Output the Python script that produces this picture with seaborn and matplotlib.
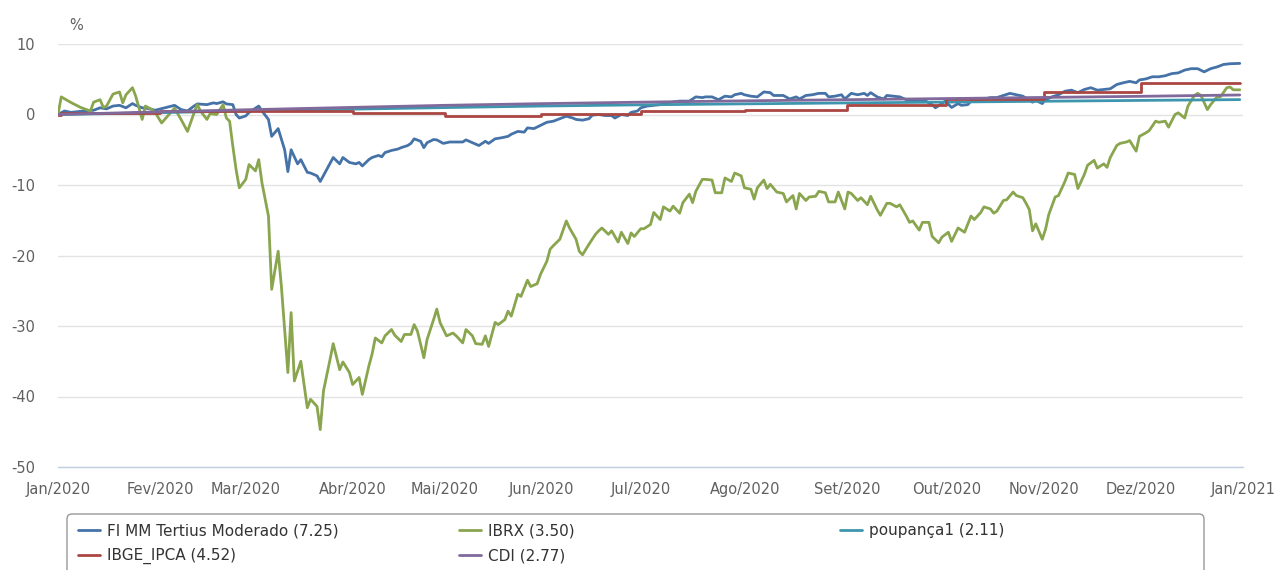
import matplotlib
matplotlib.use("Agg")
import matplotlib.pyplot as plt
import pandas as pd
import seaborn as sns
from matplotlib.lines import Line2D
from matplotlib.patches import FancyBboxPatch
from matplotlib.transforms import IdentityTransform

# x axis is in "days since start" (the source axis is ordinal, so month
# ticks sit where they were read off the picture)
month_labels = ["Jan/2020", "Fev/2020", "Mar/2020", "Abr/2020", "Mai/2020", "Jun/2020",
                "Jul/2020", "Ago/2020", "Set/2020", "Out/2020", "Nov/2020", "Dez/2020",
                "Jan/2021"]
month_pos = [0, 31.5, 58.1, 91, 119.4, 149.3, 180, 212.3, 243.8, 274.4, 304.4, 334.5, 366]

fund_days = [0, 2, 4, 8, 11, 13, 15, 17, 19, 21,
             23, 24, 26, 28, 30, 33, 36, 38, 40, 42,
             43, 46, 48, 49, 51, 52, 54, 55, 56, 58,
             59, 62, 63, 65, 66, 68, 69, 70, 71, 72,
             74, 75, 77, 78, 80, 81, 83, 85, 87, 88,
             90, 92, 93, 94, 96, 97, 99, 100, 101, 103,
             105, 106, 108, 109, 110, 112, 113, 114, 116, 117,
             119, 121, 123, 125, 126, 128, 130, 132, 133, 135,
             137, 139, 140, 142, 144, 145, 147, 149, 151, 153,
             155, 157, 159, 160, 162, 164, 165, 167, 169, 171,
             172, 174, 176, 177, 179, 180, 182, 184, 186, 188,
             192, 195, 197, 199, 200, 202, 204, 206, 208, 209,
             211, 212, 214, 216, 218, 220, 221, 224, 226, 228,
             229, 231, 233, 235, 237, 238, 240, 242, 243, 245,
             247, 249, 250, 251, 253, 255, 256, 258, 260, 262,
             265, 268, 270, 271, 273, 274, 276, 278, 279, 281,
             282, 284, 286, 288, 290, 292, 294, 296, 298, 301,
             302, 304, 305, 307, 309, 311, 313, 315, 317, 319,
             321, 323, 325, 327, 329, 331, 333, 334, 336, 338,
             340, 342, 344, 346, 348, 350, 352, 354, 356, 358,
             360, 362, 365]
fund_vals = [0.0, 0.5, 0.3, 0.5, 0.6, 0.95, 0.8, 1.2, 1.3, 0.95,
             1.55, 1.3, 0.95, 0.85, 0.6, 0.95, 1.3, 0.7, 0.5, 1.2,
             1.5, 1.4, 1.65, 1.55, 1.8, 1.5, 1.4, 0.0, -0.5, -0.2,
             0.3, 1.2, 0.5, -0.7, -3.1, -2.0, -3.5, -5.0, -8.1, -5.0,
             -7.0, -6.4, -8.2, -8.3, -8.7, -9.5, -7.8, -6.1, -7.0, -6.1,
             -6.8, -7.0, -6.8, -7.3, -6.4, -6.1, -5.8, -6.0, -5.4, -5.1,
             -4.9, -4.7, -4.4, -4.1, -3.45, -3.8, -4.7, -4.0, -3.55, -3.6,
             -4.1, -3.9, -3.9, -3.9, -3.6, -4.0, -4.4, -3.8, -4.1, -3.45,
             -3.3, -3.1, -2.8, -2.4, -2.5, -1.9, -2.0, -1.55, -1.1, -0.95,
             -0.6, -0.24, -0.5, -0.7, -0.8, -0.6, -0.1, 0.0, -0.15, -0.15,
             -0.5, 0.0, -0.15, 0.3, 0.5, 0.95, 1.2, 1.3, 1.4, 1.65,
             1.9, 1.9, 2.5, 2.4, 2.5, 2.5, 2.1, 2.6, 2.5, 2.8,
             3.0, 2.8, 2.6, 2.5, 3.2, 3.1, 2.7, 2.7, 2.2, 2.5,
             2.2, 2.7, 2.8, 3.0, 3.0, 2.5, 2.6, 2.8, 2.2, 3.0,
             2.8, 3.0, 2.7, 3.1, 2.5, 2.2, 2.7, 2.6, 2.5, 2.1,
             1.9, 1.9, 1.4, 0.95, 1.55, 1.9, 1.0, 1.55, 1.3, 1.4,
             1.9, 2.0, 2.2, 2.4, 2.4, 2.7, 3.0, 2.8, 2.6, 1.75,
             2.0, 1.55, 2.1, 2.5, 2.8, 3.3, 3.45, 3.1, 3.55, 3.8,
             3.45, 3.55, 3.65, 4.25, 4.5, 4.7, 4.5, 4.9, 5.05, 5.35,
             5.35, 5.5, 5.8, 5.9, 6.3, 6.5, 6.5, 6.05, 6.5, 6.75,
             7.1, 7.2, 7.25]

ibrx_days = [0, 1, 4, 7, 10, 11, 13, 14, 15, 17,
             19, 20, 21, 23, 24, 26, 27, 29, 30, 32,
             34, 36, 38, 40, 42, 43, 44, 46, 47, 49,
             51, 52, 53, 54, 55, 56, 58, 59, 61, 62,
             63, 65, 66, 68, 69, 71, 72, 73, 75, 77,
             78, 80, 81, 82, 84, 85, 87, 88, 90, 91,
             93, 94, 96, 97, 98, 100, 101, 103, 104, 106,
             107, 109, 110, 111, 113, 114, 116, 117, 118, 120,
             122, 123, 125, 126, 128, 129, 131, 132, 133, 135,
             136, 138, 139, 140, 142, 143, 145, 146, 148, 149,
             151, 152, 153, 155, 157, 158, 160, 161, 162, 164,
             166, 167, 168, 170, 171, 173, 174, 176, 177, 178,
             180, 181, 183, 184, 186, 187, 189, 190, 192, 193,
             195, 196, 197, 199, 200, 202, 203, 205, 206, 208,
             209, 211, 212, 214, 215, 216, 218, 219, 220, 222,
             224, 225, 227, 228, 229, 231, 232, 234, 235, 237,
             238, 240, 241, 243, 244, 245, 247, 248, 250, 251,
             253, 254, 256, 257, 259, 260, 262, 263, 264, 266,
             267, 269, 270, 272, 273, 275, 276, 278, 279, 280,
             282, 283, 285, 286, 288, 289, 290, 292, 293, 295,
             296, 298, 299, 300, 301, 302, 304, 305, 306, 308,
             309, 311, 312, 314, 315, 317, 318, 320, 321, 323,
             324, 325, 327, 328, 330, 331, 333, 334, 336, 337,
             339, 340, 342, 343, 345, 346, 348, 349, 351, 352,
             353, 355, 356, 358, 359, 361, 362, 363, 365]
ibrx_vals = [0.0, 2.5, 1.7, 1.0, 0.5, 1.75, 2.1, 1.0, 1.2, 2.9,
             3.2, 1.65, 2.8, 3.8, 2.6, -0.7, 1.2, 0.7, 0.3, -1.2,
             -0.15, 0.9, -0.7, -2.4, 0.2, 1.4, 0.5, -0.7, 0.14, 0.0,
             1.4, -0.5, -0.95, -4.5, -7.8, -10.4, -9.2, -7.1, -8.0, -6.4,
             -9.7, -14.4, -24.8, -19.4, -24.4, -36.6, -28.1, -37.8, -35.0, -41.6,
             -40.4, -41.4, -44.7, -39.2, -34.8, -32.5, -36.2, -35.1, -36.6, -38.3,
             -37.3, -39.7, -35.7, -34.0, -31.7, -32.4, -31.4, -30.5, -31.3, -32.2,
             -31.2, -31.2, -29.8, -30.7, -34.5, -31.9, -29.1, -27.6, -29.5, -31.4,
             -31.0, -31.4, -32.4, -30.5, -31.4, -32.5, -32.6, -31.4, -32.9, -29.5,
             -29.8, -29.1, -27.9, -28.6, -25.5, -25.8, -23.5, -24.4, -24.0, -22.7,
             -20.8, -19.1, -18.6, -17.7, -15.1, -16.1, -17.7, -19.4, -19.9, -18.4,
             -17.0, -16.5, -16.1, -17.0, -16.5, -18.1, -16.7, -18.3, -16.8, -17.3,
             -16.2, -16.2, -15.6, -13.9, -14.9, -13.1, -13.7, -13.0, -14.0, -12.5,
             -11.3, -12.5, -10.9, -9.2, -9.2, -9.3, -11.1, -11.1, -9.0, -9.5,
             -8.3, -8.7, -10.4, -10.6, -12.0, -10.4, -9.3, -10.5, -9.9, -11.0,
             -11.2, -12.4, -11.5, -13.4, -11.2, -12.2, -11.7, -11.6, -10.9, -11.1,
             -12.4, -12.4, -11.0, -13.4, -11.0, -11.2, -12.2, -11.8, -12.8, -11.6,
             -13.5, -14.3, -12.6, -12.6, -13.1, -12.8, -14.4, -15.3, -15.1, -16.4,
             -15.3, -15.3, -17.3, -18.2, -17.4, -16.7, -18.0, -16.1, -16.4, -16.7,
             -14.4, -14.9, -13.9, -13.1, -13.4, -14.0, -13.7, -12.2, -12.1, -11.0,
             -11.5, -11.8, -12.6, -13.5, -16.5, -15.5, -17.7, -16.3, -14.2, -11.7,
             -11.5, -9.5, -8.3, -8.5, -10.5, -8.5, -7.2, -6.5, -7.6, -7.0,
             -7.5, -6.1, -4.4, -4.1, -3.9, -3.7, -5.2, -3.1, -2.6, -2.3,
             -0.95, -1.1, -0.95, -1.8, 0.0, 0.24, -0.5, 1.2, 2.7, 3.0,
             2.7, 0.7, 1.4, 2.5, 2.5, 3.8, 3.9, 3.5, 3.5]

# monthly series (values at each month boundary)
ipca_days = [0, 1, 31.5, 58.1, 91, 119.4, 149.3, 180, 212.3, 243.8, 274.4, 304.4, 334.5, 365]
ipca_vals = [0.0, 0.21, 0.46, 0.53, 0.22, -0.16, 0.10, 0.46, 0.70, 1.34, 2.21, 3.13, 4.52, 4.52]

cdi_days = [0, 31.5, 58.1, 91, 119.4, 149.3, 180, 212.3, 243.8, 274.4, 304.4, 334.5, 365]
cdi_vals = [0.0, 0.38, 0.67, 1.01, 1.30, 1.54, 1.75, 1.94, 2.10, 2.26, 2.42, 2.58, 2.77]

poup_days = [0, 31.5, 58.1, 91, 119.4, 149.3, 180, 212.3, 243.8, 274.4, 304.4, 334.5, 365]
poup_vals = [0.0, 0.26, 0.52, 0.76, 0.98, 1.20, 1.37, 1.51, 1.64, 1.76, 1.88, 2.00, 2.11]

series = [
    ("FI MM Tertius Moderado (7.25)", fund_days, fund_vals, "#4572A7", "default"),
    ("IBRX (3.50)", ibrx_days, ibrx_vals, "#89A54E", "default"),
    ("poupança1 (2.11)", poup_days, poup_vals, "#3D96AE", "default"),
    ("IBGE_IPCA (4.52)", ipca_days, ipca_vals, "#AA4643", "steps-post"),
    ("CDI (2.77)", cdi_days, cdi_vals, "#80699B", "default"),
]

W, H = 1277, 570
sns.set_style("white")
plt.rcParams["font.family"] = ["DejaVu Sans"]
plt.rcParams["axes.unicode_minus"] = False

fig = plt.figure(figsize=(W / 100, H / 100), dpi=100)
ax = fig.add_axes([58 / W, 1 - 467 / H, (1243 - 58) / W, (467 - 44) / H])

for label, days, vals, color, ds in series:
    df = pd.DataFrame({"day": days, "value": vals})
    sns.lineplot(data=df, x="day", y="value", ax=ax, color=color, linewidth=2.0,
                 errorbar=None, sort=False, drawstyle=ds, label=label, legend=False)

ax.set_xlim(0, 366)
ax.set_ylim(-50, 10)
ax.set_xticks(month_pos)
ax.set_xticklabels(month_labels)
ax.set_yticks(range(-50, 11, 10))
ax.set_xlabel("")
ax.set_ylabel("")

ax.yaxis.grid(True, color="#E3E3E3", linewidth=1)
ax.xaxis.grid(False)
ax.set_axisbelow(True)
for side in ("top", "right", "left"):
    ax.spines[side].set_visible(False)
ax.spines["bottom"].set_color("#C0D0E0")
ax.spines["bottom"].set_linewidth(1)

ax.tick_params(axis="y", length=0, pad=16.5, labelsize=10.5, labelcolor="#606060")
ax.tick_params(axis="x", length=7.5, width=1, color="#C0D0E0", direction="out",
               pad=3, labelsize=10.5, labelcolor="#606060")

fig.text(76 / W, 1 - 26 / H, "%", ha="center", va="center", fontsize=10.5, color="#606060")

# legend box (runs off the bottom edge like in the original)
frame = FancyBboxPatch((67, -30), 1204 - 67, 30 + (H - 514),
                       boxstyle="round,pad=0,rounding_size=5",
                       transform=IdentityTransform(), facecolor="white",
                       edgecolor="#999999", linewidth=1)
fig.add_artist(frame)

legend_spots = {
    "FI MM Tertius Moderado (7.25)": (77.5, 531),
    "IBGE_IPCA (4.52)": (77.5, 556),
    "IBRX (3.50)": (459, 531),
    "CDI (2.77)": (459, 556),
    "poupança1 (2.11)": (840, 531),
}
for label, days, vals, color, ds in series:
    lx, ly = legend_spots[label]
    fig.legend(handles=[Line2D([], [], color=color, linewidth=2.0)], labels=[label],
               loc="center left", bbox_to_anchor=(lx / W, 1 - ly / H),
               frameon=False, borderpad=0, borderaxespad=0,
               handlelength=1.44, handletextpad=0.46, fontsize=11,
               labelcolor="#333333")

fig.savefig("out.png", dpi=100)
plt.close(fig)
